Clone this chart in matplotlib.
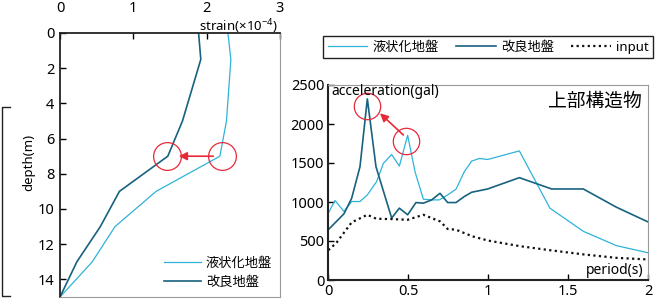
import matplotlib
matplotlib.use("Agg")
import matplotlib.pyplot as plt
from matplotlib.lines import Line2D

plt.rcParams['font.family'] = ['Noto Sans', 'Noto Sans CJK JP', 'DejaVu Sans']
plt.rcParams['mathtext.fontset'] = 'custom'
plt.rcParams['mathtext.rm'] = 'Noto Sans'

# ---- left panel data (strain vs depth) ----
depth = [0, 1.5, 5, 7, 9, 11, 13, 15]
strain_liq = [2.29, 2.33, 2.27, 2.18, 1.31, 0.75, 0.44, 0.0]
strain_imp = [1.89, 1.92, 1.67, 1.47, 0.81, 0.55, 0.23, 0.0]
strain_ticks = [0, 1, 2, 3]
depth_ticks = [0, 2, 4, 6, 8, 10, 12, 14]

# ---- right panel data (response spectrum) ----
period_liq = [0, 0.042, 0.098, 0.146, 0.198, 0.244, 0.302, 0.344, 0.396, 0.444,
              0.496, 0.542, 0.594, 0.646, 0.694, 0.746, 0.798, 0.85, 0.896, 0.944,
              0.996, 1.194, 1.385, 1.594, 1.80, 2.0]
acc_liq = [857, 1019, 879, 1006, 1006, 1091, 1261, 1494, 1609, 1460,
           1855, 1388, 1036, 1027, 1027, 1091, 1163, 1388, 1524, 1558,
           1545, 1655, 921, 624, 441, 348]
period_imp = [0, 0.098, 0.146, 0.198, 0.244, 0.298, 0.396, 0.444, 0.496, 0.548,
              0.594, 0.646, 0.698, 0.746, 0.798, 0.85, 0.896, 0.996, 1.194, 1.396,
              1.594, 1.80, 2.0]
acc_imp = [645, 849, 1048, 1452, 2322, 1452, 794, 921, 836, 993,
           985, 1027, 1112, 993, 993, 1070, 1125, 1167, 1312, 1167,
           1167, 934, 743]
period_in = [0, 0.05, 0.146, 0.244, 0.30, 0.396, 0.496, 0.594, 0.70, 0.746,
             0.798, 0.9, 1.0, 1.2, 1.4, 1.6, 1.8, 2.0]
acc_in = [382, 475, 739, 836, 785, 781, 772, 836, 750, 654,
          645, 560, 505, 433, 378, 327, 284, 263]
period_ticks = [0, 0.5, 1, 1.5, 2]
period_ticklabels = ['0', '0.5', '1', '1.5', '2']
acc_ticks = [0, 500, 1000, 1500, 2000, 2500]

c_liq = '#2fb3d9'
c_imp = '#17627e'
red = '#e62a3a'

W, H = 662, 300
fig = plt.figure(figsize=(W / 100, H / 100), dpi=100)

# ================= left panel =================
axL = fig.add_axes([60 / W, 1 - 297 / H, 220 / W, 264 / H])
axL.plot(strain_liq, depth, color=c_liq, lw=0.9, label='液状化地盤')
axL.plot(strain_imp, depth, color=c_imp, lw=1.2, label='改良地盤')
axL.set_xlim(0, 3)
axL.set_ylim(15, 0)
axL.xaxis.tick_top()
axL.set_xticks(strain_ticks)
axL.set_yticks(depth_ticks)
axL.tick_params(direction='in', length=4, width=1, labelsize=10.5, pad=4)
axL.tick_params(axis='x', pad=12)
axL.spines['left'].set_color('#222222')
axL.spines['top'].set_color('#222222')
axL.spines['left'].set_linewidth(1.3)
axL.spines['top'].set_linewidth(1.3)
for s in ('right', 'bottom'):
    axL.spines[s].set_color('#999999')
    axL.spines[s].set_linewidth(0.8)
axL.set_ylabel('depth(m)', fontsize=9.5)
axL.yaxis.set_label_coords(-0.112, 0.51)
axL.text(0.99, 0.99, 'strain(×10$^{-4}$)', transform=axL.transAxes,
         ha='right', va='bottom', fontsize=9.5)
# circles & arrow
axL.plot([1.455, 2.205], [7.0, 7.0], 'o', ms=20, mfc='none', mec=red, mew=0.9)
axL.annotate('', xy=(1.62, 7.0), xytext=(2.09, 7.0),
             arrowprops=dict(arrowstyle='-|>', color=red, lw=1.2,
                             mutation_scale=12, shrinkA=0, shrinkB=0))
axL.legend(loc='lower right', bbox_to_anchor=(1.0, 0.0), frameon=False,
           fontsize=9.5, handlelength=2.8, handletextpad=0.4, labelspacing=0.5,
           borderaxespad=0.2)

# bracket at far left
fig.add_artist(Line2D([10 / W, 2 / W, 2 / W, 10 / W],
                      [1 - 107 / H, 1 - 107 / H, 1 - 296 / H, 1 - 296 / H],
                      color='#222222', lw=1.0))

# ================= right panel =================
axR = fig.add_axes([328.3 / W, 1 - 280 / H, 320 / W, 195 / H])
lR1, = axR.plot(period_liq, acc_liq, color=c_liq, lw=0.9, label='液状化地盤')
lR2, = axR.plot(period_imp, acc_imp, color=c_imp, lw=1.2, label='改良地盤')
lR3, = axR.plot(period_in, acc_in, color='#111111', lw=1.6,
                linestyle=(0, (1, 1.5)), label='input')
axR.set_xlim(0, 2)
axR.set_ylim(0, 2500)
axR.set_xticks(period_ticks)
axR.set_xticklabels(period_ticklabels)
axR.set_yticks(acc_ticks)
axR.tick_params(direction='in', length=4, width=1, labelsize=10.5, pad=3)
axR.tick_params(axis='x', pad=3)
axR.spines['left'].set_color('#222222')
axR.spines['bottom'].set_color('#222222')
axR.spines['left'].set_linewidth(1.5)
axR.spines['bottom'].set_linewidth(1.5)
for s in ('right', 'top'):
    axR.spines[s].set_color('#999999')
    axR.spines[s].set_linewidth(0.8)
axR.text(0.01, 1.005, 'acceleration(gal)', transform=axR.transAxes,
         ha='left', va='top', fontsize=10)
axR.text(0.985, 0.05, 'period(s)', transform=axR.transAxes,
         ha='right', va='center', fontsize=10)
axR.text(0.98, 0.915, '上部構造物', transform=axR.transAxes,
         ha='right', va='center', fontsize=13.5)
axR.plot([0.244, 0.486], [2231, 1782], 'o', ms=19, mfc='none', mec=red, mew=0.9)
axR.annotate('', xy=(0.323, 2137), xytext=(0.469, 1859),
             arrowprops=dict(arrowstyle='-|>', color=red, lw=1.2,
                             mutation_scale=12, shrinkA=0, shrinkB=0))

fig.legend(handles=[lR1, lR2, lR3], loc='center',
           bbox_to_anchor=((326.7 + 650) / 2 / W, 1 - 47 / H),
           ncol=3, frameon=True, fancybox=False, edgecolor='#222222',
           framealpha=1, fontsize=9.5, handlelength=3.0, handletextpad=0.4,
           columnspacing=1.3, borderpad=0.35)

fig.savefig('out.png', dpi=100)
